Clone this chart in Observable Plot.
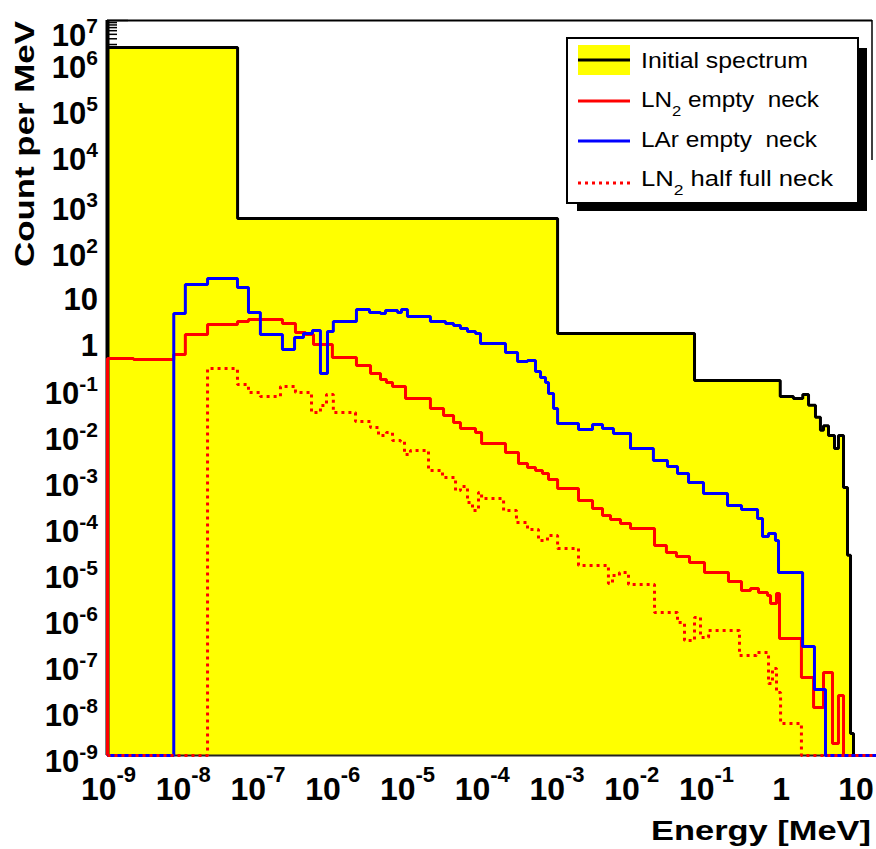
<!DOCTYPE html>
<html><head><meta charset="utf-8">
<script src="https://cdn.jsdelivr.net/npm/d3@7"></script>
<script src="https://cdn.jsdelivr.net/npm/@observablehq/plot@0.6"></script>
<style>body{margin:0;background:#fff;} svg{display:block;}</style>
</head><body><div id="chart"></div>
<script>
// ---- data (energy in MeV, counts per MeV) ----
const FLOOR = 1e-9;
const X_MIN = 1e-9, X_MAX = 20;
const Y_MIN = 1e-9, Y_MAX = 1e7;

const initialEdges = [1e-9, 5.5e-8, 1.05e-3, 0.0713, 1.0, 1.5, 2.0, 2.39, 2.96, 3.45, 3.79, 4.42, 5.32, 6.01, 7.02, 7.94, 8.71, 9.55];
const initialCounts = [2.6e6, 490, 1.53, 0.146, 0.065, 0.059, 0.072, 0.042, 0.023, 0.012, 0.015, 0.0093, 0.0048, 0.0093, 6.8e-4, 2.3e-5, 3e-9];

const ln2EmptyEdges = [1e-9, 2.23e-9, 7.7e-9, 1.1e-8, 2.18e-8, 5.48e-8, 7.69e-8, 2.19e-7, 3.27e-7, 4.46e-7, 5.7e-7, 1.02e-6, 2.14e-6, 3.3e-6, 4.49e-6, 5.39e-6, 6.5e-6, 9.7e-6, 2.09e-5, 3.13e-5, 4.26e-5, 5.27e-5, 8.38e-5, 1.01e-4, 2.11e-4, 3.15e-4, 4.16e-4, 5.32e-4, 6.59e-4, 7.94e-4, 1.05e-3, 2.0e-3, 3.08e-3, 4.19e-3, 5.36e-3, 7.29e-3, 9.93e-3, 2.08e-2, 3.0e-2, 4.09e-2, 6.11e-2, 9.7e-2, 0.203, 0.303, 0.4, 0.512, 0.675, 0.741, 0.891, 0.977, 1.92, 2.79, 3.79, 5.0, 6.01, 7.02];
const ln2EmptyCounts = [0.439, 0.417, 0.536, 1.46, 2.41, 2.80, 3.10, 2.53, 1.61, 1.46, 0.883, 0.460, 0.308, 0.206, 0.153, 0.132, 0.108, 0.059, 0.0357, 0.0252, 0.0177, 0.0131, 0.0107, 0.00618, 0.00394, 0.00227, 0.00186, 0.0016, 0.00137, 0.00102, 6.49e-4, 3.56e-4, 2.38e-4, 1.67e-4, 1.37e-4, 1.12e-4, 8.73e-5, 3.72e-5, 2.62e-5, 2.15e-5, 1.59e-5, 9.6e-6, 6.14e-6, 3.91e-6, 4.32e-6, 3.53e-6, 3.04e-6, 2.04e-6, 3.36e-6, 3.52e-7, 4.99e-8, 1.11e-8, 6.41e-8, 1.82e-9, 2.02e-8];

const larEmptyEdges = [7.7e-9, 1.1e-8, 2.18e-8, 5.48e-8, 7.69e-8, 1.11e-7, 2.19e-7, 3.18e-7, 4.19e-7, 5.52e-7, 7.06e-7, 8.77e-7, 1.05e-6, 2.14e-6, 3.2e-6, 4.49e-6, 5.24e-6, 7.59e-6, 8.57e-6, 1.03e-5, 2.09e-5, 3.33e-5, 4.26e-5, 5.27e-5, 6.55e-5, 8.38e-5, 9.77e-5, 2.11e-4, 3.06e-4, 4.16e-4, 5.32e-4, 6.21e-4, 7.24e-4, 7.94e-4, 9.27e-4, 1.05e-3, 2.0e-3, 3.08e-3, 4.19e-3, 5.87e-3, 9.93e-3, 2.01e-2, 3.1e-2, 4.22e-2, 5.93e-2, 7.82e-2, 9.4e-2, 0.197, 0.303, 0.497, 0.579, 0.697, 0.863, 0.948, 1.99, 2.87, 4.03];
const larEmptyCounts = [4.18, 17.9, 24.2, 15.4, 4.40, 1.46, 0.689, 1.26, 1.53, 1.78, 0.206, 1.69, 2.80, 5.11, 4.40, 4.18, 4.86, 4.40, 5.11, 3.60, 2.80, 2.53, 2.29, 1.97, 1.69, 1.53, 0.929, 0.591, 0.377, 0.396, 0.229, 0.169, 0.132, 0.0759, 0.0357, 0.0169, 0.0125, 0.016, 0.0131, 0.0102, 0.00482, 0.00264, 0.00195, 0.00137, 8.77e-4, 8.77e-4, 5.05e-4, 2.77e-4, 2.26e-4, 1.44e-4, 5.85e-5, 6.79e-5, 4.79e-5, 9.6e-6, 2.36e-7, 2.74e-8];

const ln2HalfEdges = [2.18e-8, 5.48e-8, 7.69e-8, 1.11e-7, 2.06e-7, 3.27e-7, 5.36e-7, 7.06e-7, 8.51e-7, 1.05e-6, 2.08e-6, 3.3e-6, 4.22e-6, 5.39e-6, 6.5e-6, 8.32e-6, 9.4e-6, 1.13e-5, 1.97e-5, 3.03e-5, 4.53e-5, 5.27e-5, 6.55e-5, 7.64e-5, 9.19e-5, 1.01e-4, 1.99e-4, 2.96e-4, 4.16e-4, 5.83e-4, 7.69e-4, 1.05e-3, 2.0e-3, 5.03e-3, 5.7e-3, 7.06e-3, 9.33e-3, 2.08e-2, 4.22e-2, 5.24e-2, 7.13e-2, 8.57e-2, 0.11, 0.285, 0.481, 0.697, 0.787, 0.891, 1.01, 1.92];
const ln2HalfCounts = [0.265, 0.119, 0.0798, 0.0653, 0.108, 0.0798, 0.0292, 0.0416, 0.0721, 0.0292, 0.0186, 0.0138, 0.00925, 0.0107, 0.0072, 0.00684, 0.00356, 0.00436, 0.0016, 0.00112, 5.86e-4, 7.16e-4, 3.21e-4, 2.15e-4, 5.31e-4, 3.93e-4, 2.15e-4, 1.18e-4, 8.3e-5, 4.79e-5, 6.15e-5, 3.21e-5, 1.37e-5, 5.55e-6, 8.28e-6, 9.6e-6, 5.27e-6, 1.30e-6, 7.85e-7, 3.18e-7, 1.01e-6, 3.71e-7, 5.26e-7, 1.50e-7, 1.75e-7, 3.69e-8, 7.83e-8, 2.35e-8, 4.98e-9];

const yTickExponents = [-9, -8, -7, -6, -5, -4, -3, -2, -1, 0, 1, 2, 3, 4, 5, 6, 7];
const xTickExponents = [-9, -8, -7, -6, -5, -4, -3, -2, -1, 0, 1];
const legendLabels = [
  [["Initial spectrum", 0]],
  [["LN", 0], ["2", 1], [" empty  neck", 0]],
  [["LAr empty  neck", 0]],
  [["LN", 0], ["2", 1], [" half full neck", 0]]
];
const xTitle = "Energy [MeV]";
const yTitle = "Count per MeV";

// ---- helpers ----
function stepPoints(edges, counts) {
  const pts = [{x: X_MIN, y: FLOOR}, {x: edges[0], y: FLOOR}];
  counts.forEach((c, i) => {
    const v = Math.max(c, FLOOR);
    pts.push({x: edges[i], y: v}, {x: edges[i + 1], y: v});
  });
  pts.push({x: edges[edges.length - 1], y: FLOOR}, {x: X_MAX, y: FLOOR});
  return pts;
}
const initialPts = stepPoints(initialEdges, initialCounts);
const ln2EmptyPts = stepPoints(ln2EmptyEdges, ln2EmptyCounts);
const larPts = stepPoints(larEmptyEdges, larEmptyCounts);
const ln2HalfPts = stepPoints(ln2HalfEdges, ln2HalfCounts);

const majorY = yTickExponents.map(k => 10 ** k);
const minorY = [];
yTickExponents.slice(0, -1).forEach(k => { for (let m = 2; m <= 9; m++) minorY.push(m * 10 ** k); });

const FONT = "'Liberation Sans', Arial, Helvetica, sans-serif";
const W = 876, H = 849;
const M_RIGHT = 4;

const plot = Plot.plot({
  width: W, height: H,
  marginLeft: 107, marginRight: M_RIGHT, marginTop: 20, marginBottom: 94,
  x: {type: "log", domain: [X_MIN, X_MAX], range: [107, 877], axis: null},
  y: {type: "log", domain: [Y_MIN, Y_MAX], range: [755, 20], axis: null},
  style: {background: "white", fontFamily: FONT, overflow: "visible"},
  marks: [
    Plot.tickY(minorY, {y: d => d, stroke: "black", strokeWidth: 1.5, insetRight: 755}),
    Plot.tickY(majorY, {y: d => d, stroke: "black", strokeWidth: 1.5, insetRight: 744}),
    Plot.areaY(initialPts, {x: "x", y1: FLOOR, y2: "y", fill: "#ffff00", curve: "linear"}),
    Plot.ruleY([Y_MAX], {stroke: "black", strokeWidth: 2}),
    Plot.ruleX([X_MIN], {stroke: "black", strokeWidth: 4}),
    Plot.line(initialPts, {x: "x", y: "y", stroke: "black", strokeWidth: 3, strokeLinejoin: "miter", strokeLinecap: "butt"}),
    Plot.ruleY([Y_MIN], {stroke: "#222", strokeWidth: 2, insetRight: -4}),
    Plot.line(ln2EmptyPts, {x: "x", y: "y", stroke: "#ff0000", strokeWidth: 3, strokeLinejoin: "miter", strokeLinecap: "butt"}),
    Plot.line(larPts, {x: "x", y: "y", stroke: "#0000ff", strokeWidth: 3, strokeLinejoin: "miter", strokeLinecap: "butt"}),
    Plot.line(ln2HalfPts, {x: "x", y: "y", stroke: "#ff0000", strokeWidth: 3, strokeDasharray: "3,4", strokeLinejoin: "miter", strokeLinecap: "butt"})
  ]
});
document.getElementById("chart").appendChild(plot);

const svg = d3.select(plot);
const xs = plot.scale("x"), ys = plot.scale("y");

// short right frame edge at the top-right corner
svg.append("line").attr("x1", W - M_RIGHT).attr("x2", W - M_RIGHT)
  .attr("y1", ys.apply(Y_MAX)).attr("y2", 160).attr("stroke", "black").attr("stroke-width", 1.5);

// y tick labels
yTickExponents.forEach(k => {
  const ty = ys.apply(10 ** k);
  const sup = k !== 0 && k !== 1;
  const shift = k === 7 ? 9 : (k >= 4 ? -4 : 0);
  const t = svg.append("text")
    .attr("x", 98).attr("y", ty + (sup ? 16.5 : 14) + shift)
    .attr("text-anchor", "end").attr("font-family", FONT)
    .attr("font-weight", "bold").attr("font-size", 31).attr("fill", "black");
  t.append("tspan").text(k === 0 ? "1" : "10");
  if (sup) t.append("tspan").attr("font-size", 21).attr("dy", -13).text(String(k));
});

// x tick labels
xTickExponents.forEach(k => {
  const tx = xs.apply(10 ** k);
  const sup = k !== 0 && k !== 1;
  const t = svg.append("text")
    .attr("x", tx + 1.5).attr("y", 800)
    .attr("text-anchor", "middle").attr("font-family", FONT)
    .attr("font-weight", "bold").attr("font-size", 32).attr("fill", "black");
  t.append("tspan").text(k === 0 ? "1" : "10");
  if (sup) t.append("tspan").attr("font-size", 22).attr("dy", -18).text(String(k));
});

// axis titles
svg.append("text").attr("x", 871).attr("y", 840).attr("text-anchor", "end")
  .attr("font-family", FONT).attr("font-weight", "bold").attr("font-size", 28)
  .attr("textLength", 220).attr("lengthAdjust", "spacingAndGlyphs").text(xTitle);
svg.append("text").attr("transform", "translate(34,144) rotate(-90)").attr("text-anchor", "middle")
  .attr("font-family", FONT).attr("font-weight", "bold").attr("font-size", 27)
  .attr("textLength", 246).attr("lengthAdjust", "spacingAndGlyphs").text(yTitle);

// legend
const lg = svg.append("g");
lg.append("rect").attr("x", 577).attr("y", 48).attr("width", 290).attr("height", 163).attr("fill", "black");
lg.append("rect").attr("x", 567).attr("y", 38).attr("width", 291).attr("height", 165).attr("fill", "white").attr("stroke", "black").attr("stroke-width", 2);
const rowsY = [60, 101, 141, 183];
const textBase = [68, 107, 147, 186];
const textLen = [167, 178, 176, 192];
lg.append("rect").attr("x", 578).attr("y", 45).attr("width", 52).attr("height", 30).attr("fill", "#ffff00");
lg.append("line").attr("x1", 578).attr("x2", 630).attr("y1", rowsY[0]).attr("y2", rowsY[0]).attr("stroke", "black").attr("stroke-width", 3);
lg.append("line").attr("x1", 578).attr("x2", 630).attr("y1", rowsY[1]).attr("y2", rowsY[1]).attr("stroke", "#ff0000").attr("stroke-width", 3);
lg.append("line").attr("x1", 578).attr("x2", 630).attr("y1", rowsY[2]).attr("y2", rowsY[2]).attr("stroke", "#0000ff").attr("stroke-width", 3);
lg.append("line").attr("x1", 578).attr("x2", 630).attr("y1", rowsY[3]).attr("y2", rowsY[3]).attr("stroke", "#ff0000").attr("stroke-width", 3).attr("stroke-dasharray", "3,4");
legendLabels.forEach((segs, i) => {
  const t = lg.append("text").attr("x", 641).attr("y", textBase[i])
    .attr("text-anchor", "start")
    .attr("font-family", FONT).attr("font-size", 22).attr("fill", "black")
    .attr("textLength", textLen[i]).attr("lengthAdjust", "spacingAndGlyphs")
    .style("white-space", "pre");
  let prevSub = 0;
  segs.forEach(([s, sub]) => {
    const ts = t.append("tspan").text(s);
    if (sub) ts.attr("font-size", 15);
    const dy = (sub - prevSub) * 9;
    if (dy) ts.attr("dy", dy);
    prevSub = sub;
  });
});
</script>
</body></html>
